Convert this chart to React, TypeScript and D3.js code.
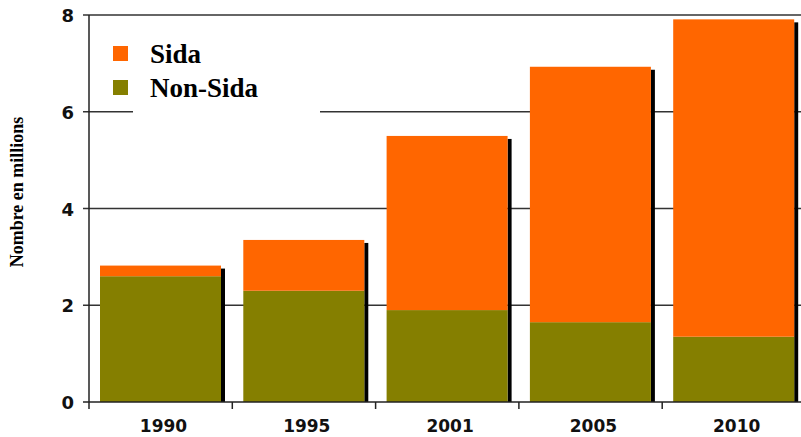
import React, { useRef, useEffect } from 'react';
import * as d3 from 'd3';

// valeurs (millions)
const years = ['1990', '1995', '2001', '2005', '2010'];
const nonSida = [2.6, 2.3, 1.9, 1.65, 1.35];
const sida = [0.22, 1.05, 3.6, 5.28, 6.56];
const yTicks = [0, 2, 4, 6, 8];
const seriesNames = ['Sida', 'Non-Sida'];
const seriesColors = ['#ff6600', '#857f00'];

const App = () => {
    const ref = useRef<SVGSVGElement>(null);

    useEffect(() => {
        const width = 801, height = 437;
        const left = 89, top = 15, bottom = 402;

        const svg = d3.select(ref.current);
        svg.selectAll('*').remove();

        svg.append('rect').attr('width', width).attr('height', height).attr('fill', 'white');

        const x = d3.scaleBand().domain(years).range([left, left + 5 * 143.3]).paddingInner(0).paddingOuter(0);
        const y = d3.scaleLinear().domain([0, 8]).range([bottom, top]);

        // grid lines
        svg.selectAll('line.grid')
            .data(yTicks.filter(d => d > 0))
            .enter().append('line')
            .attr('class', 'grid')
            .attr('x1', left - 6)
            .attr('x2', width)
            .attr('y1', d => y(d))
            .attr('y2', d => y(d))
            .attr('stroke', '#333')
            .attr('stroke-width', 1.5);

        const data = years.map((yr, i) => ({ yr, ns: nonSida[i], s: sida[i] }));
        const barOff = 11, barW = 121;

        const g = svg.selectAll('g.bar').data(data).enter().append('g').attr('class', 'bar');

        // ombre
        g.append('rect')
            .attr('x', d => (x(d.yr) as number) + barOff + barW)
            .attr('y', d => y(d.ns + d.s) + 3)
            .attr('width', 4)
            .attr('height', d => bottom - y(d.ns + d.s) - 3)
            .attr('fill', 'black');

        g.append('rect')
            .attr('x', d => (x(d.yr) as number) + barOff)
            .attr('y', d => y(d.ns))
            .attr('width', barW)
            .attr('height', d => bottom - y(d.ns))
            .attr('fill', seriesColors[1]);

        g.append('rect')
            .attr('x', d => (x(d.yr) as number) + barOff)
            .attr('y', d => y(d.ns + d.s))
            .attr('width', barW)
            .attr('height', d => y(d.ns) - y(d.ns + d.s))
            .attr('fill', seriesColors[0]);

        // axes
        svg.append('line')
            .attr('x1', left).attr('x2', left)
            .attr('y1', top).attr('y2', bottom)
            .attr('stroke', '#222').attr('stroke-width', 1.5);
        svg.append('line')
            .attr('x1', left - 6).attr('x2', width)
            .attr('y1', bottom).attr('y2', bottom)
            .attr('stroke', '#222').attr('stroke-width', 1.5);

        svg.selectAll('line.xtick')
            .data(years)
            .enter().append('line')
            .attr('class', 'xtick')
            .attr('x1', d => x(d) as number)
            .attr('x2', d => x(d) as number)
            .attr('y1', bottom)
            .attr('y2', bottom + 7)
            .attr('stroke', '#222')
            .attr('stroke-width', 1.5);

        svg.selectAll('text.ytick')
            .data(yTicks)
            .enter().append('text')
            .attr('class', 'ytick')
            .attr('x', 74)
            .attr('y', d => y(d) + 7)
            .attr('text-anchor', 'end')
            .attr('font-family', 'DejaVu Sans')
            .attr('font-weight', 'bold')
            .attr('font-size', 18)
            .attr('fill', '#111')
            .text(d => d);

        svg.selectAll('text.xlabel')
            .data(years)
            .enter().append('text')
            .attr('class', 'xlabel')
            .attr('x', d => (x(d) as number) + barOff + barW / 2 + 3)
            .attr('y', 432)
            .attr('text-anchor', 'middle')
            .attr('font-family', 'DejaVu Sans')
            .attr('font-weight', 'bold')
            .attr('font-size', 17)
            .attr('fill', '#111')
            .text(d => d);

        svg.append('text')
            .attr('transform', 'translate(23,192) rotate(-90)')
            .attr('text-anchor', 'middle')
            .attr('font-family', 'Liberation Serif')
            .attr('font-weight', 'bold')
            .attr('font-size', 18)
            .text('Nombre en millions');

        // légende
        svg.append('rect')
            .attr('x', 133).attr('y', 30)
            .attr('width', 187).attr('height', 85)
            .attr('fill', 'white');

        const leg = svg.selectAll('g.leg').data(seriesNames).enter().append('g').attr('class', 'leg')
            .attr('transform', (d, i) => `translate(113,${46 + i * 34})`);
        leg.append('rect')
            .attr('width', 15).attr('height', 15)
            .attr('fill', (d, i) => seriesColors[i]);
        leg.append('text')
            .attr('x', 37)
            .attr('y', 17)
            .attr('font-family', 'Liberation Serif')
            .attr('font-weight', 'bold')
            .attr('font-size', 27)
            .text(d => d);
    }, []);

    return (
        <svg ref={ref} width={801} height={437} style={{ position: 'absolute', left: 0, top: 0 }} />
    );
};

export default App;
